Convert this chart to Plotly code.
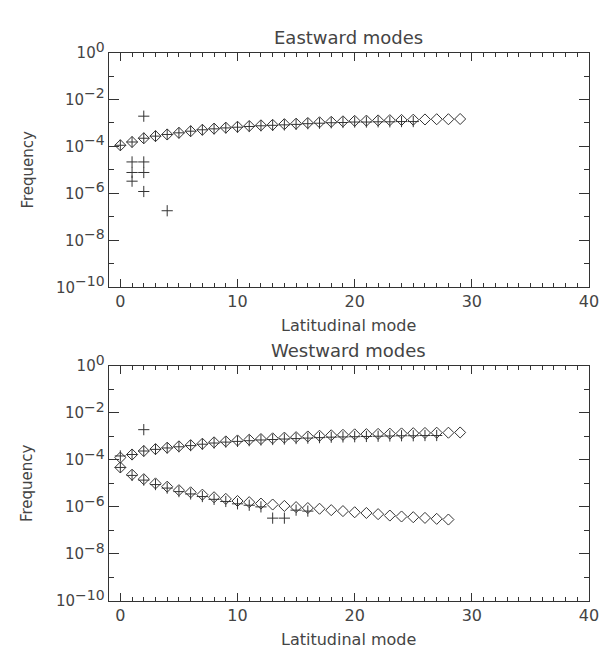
import plotly.graph_objects as go

# ---------------- data (log10 of frequency) ----------------
east_modes = list(range(0, 30))
east_diamond_log = [-3.95, -3.81, -3.65, -3.56, -3.49, -3.42, -3.35, -3.29, -3.24, -3.20,
                    -3.16, -3.13, -3.10, -3.08, -3.05, -3.03, -3.00, -2.97, -2.95, -2.93,
                    -2.91, -2.90, -2.89, -2.88, -2.87, -2.86, -2.85, -2.84, -2.84, -2.83]

east_plus_modes = [0, 1, 2, 3, 4, 5, 6, 7, 8, 9, 10, 11, 12, 13, 14, 15, 16, 17, 18, 19,
                   20, 21, 22, 23, 24, 25,
                   1, 1, 1, 2, 2, 2, 2, 4]
east_plus_log = [-3.95, -3.81, -3.65, -3.56, -3.49, -3.42, -3.35, -3.29, -3.25, -3.21,
                 -3.18, -3.15, -3.12, -3.10, -3.08, -3.06, -3.03, -3.01, -2.99, -2.98,
                 -2.96, -2.96, -2.95, -2.95, -2.94, -2.94,
                 -4.66, -5.11, -5.48, -2.71, -4.66, -5.11, -5.92, -6.74]

west_upper_modes = list(range(0, 30))
west_upper_diamond_log = [-3.90, -3.77, -3.62, -3.54, -3.48, -3.42, -3.37, -3.31, -3.25, -3.21,
                          -3.17, -3.14, -3.11, -3.08, -3.05, -3.03, -3.00, -2.97, -2.95, -2.93,
                          -2.91, -2.90, -2.89, -2.88, -2.87, -2.86, -2.85, -2.84, -2.84, -2.83]

west_lower_modes = list(range(0, 29))
west_lower_diamond_log = [-4.32, -4.63, -4.82, -5.00, -5.14, -5.29, -5.38, -5.48, -5.59, -5.66,
                          -5.75, -5.80, -5.86, -5.90, -5.96, -6.01, -6.05, -6.08, -6.14, -6.18,
                          -6.23, -6.26, -6.31, -6.37, -6.41, -6.44, -6.47, -6.51, -6.54]

west_plus_modes = [0, 1, 2, 3, 4, 5, 6, 7, 8, 9, 10, 11, 12, 13, 14, 15, 16, 17, 18, 19,
                   20, 21, 22, 23, 24, 25, 26, 27,
                   2,
                   0, 1, 2, 3, 4, 5, 6, 7, 8, 9, 10, 11, 12, 13, 14, 15, 16]
west_plus_log = [-3.83, -3.77, -3.62, -3.55, -3.49, -3.44, -3.39, -3.33, -3.28, -3.24,
                 -3.21, -3.18, -3.15, -3.13, -3.11, -3.09, -3.07, -3.05, -3.03, -3.02,
                 -3.01, -3.00, -2.99, -2.98, -2.97, -2.97, -2.96, -2.96,
                 -2.71,
                 -4.32, -4.66, -4.86, -5.05, -5.20, -5.35, -5.45, -5.56, -5.68, -5.77,
                 -5.87, -5.93, -6.00, -6.48, -6.48, -6.14, -6.18]

y_tick_exp = [0, -2, -4, -6, -8, -10]
y_minor_exp = [-1, -3, -5, -7, -9]
x_tick_vals = [0, 10, 20, 30, 40]

panel_titles = ["Eastward modes", "Westward modes"]
x_title = "Latitudinal mode"
y_title = "Frequency"

# ---------------- figure ----------------
W, H = 610, 649
INK = "#333333"
TEXT = "#444444"
FONT = "DejaVu Sans"

def to_freq(vals):
    return [10 ** v for v in vals]

def px(x):
    return x / W

def py(y):
    return 1 - y / H

fig = go.Figure()

diamond = dict(symbol="diamond-open", size=8.5, color=INK, line=dict(width=1, color=INK))
plus = dict(symbol="cross-thin-open", size=8, color=INK, line=dict(width=1, color=INK))

# top panel
fig.add_trace(go.Scatter(x=east_modes, y=to_freq(east_diamond_log), mode="markers",
                         marker=diamond, xaxis="x", yaxis="y", showlegend=False))
fig.add_trace(go.Scatter(x=east_plus_modes, y=to_freq(east_plus_log), mode="markers",
                         marker=plus, xaxis="x", yaxis="y", showlegend=False))
# bottom panel
fig.add_trace(go.Scatter(x=west_upper_modes, y=to_freq(west_upper_diamond_log), mode="markers",
                         marker=diamond, xaxis="x2", yaxis="y2", showlegend=False))
fig.add_trace(go.Scatter(x=west_lower_modes, y=to_freq(west_lower_diamond_log), mode="markers",
                         marker=diamond, xaxis="x2", yaxis="y2", showlegend=False))
fig.add_trace(go.Scatter(x=west_plus_modes, y=to_freq(west_plus_log), mode="markers",
                         marker=plus, xaxis="x2", yaxis="y2", showlegend=False))

x_left, x_right = 102.3, 590.7
top_box = (31.7, 275.0)
bot_box = (356.7, 600.0)

xtick_font = dict(family=FONT, size=16, color=TEXT)
ytick_font = dict(family=FONT, size=15, color=TEXT)

def ytick_text(e):
    s = str(e).replace("-", "\u2212")
    return "10<sup><span style='font-size:14px'>%s</span></sup>" % s

def xaxis_cfg(box):
    return dict(domain=[px(x_left), px(x_right)], range=[-1, 40],
                tickvals=x_tick_vals, ticktext=[str(v) for v in x_tick_vals],
                ticks="inside", ticklen=8, tickwidth=1, tickcolor=INK,
                minor=dict(dtick=1, tick0=0, ticks="inside", ticklen=4, tickwidth=1, tickcolor=INK),
                showline=True, linecolor=INK, linewidth=1, mirror="ticks",
                showgrid=False, zeroline=False, tickfont=xtick_font)

def yaxis_cfg(box):
    return dict(domain=[py(box[1]), py(box[0])], type="log", range=[-10, 0],
                tickvals=[10 ** e for e in y_tick_exp],
                ticktext=[ytick_text(e) for e in y_tick_exp],
                ticks="inside", ticklen=10, tickwidth=1, tickcolor=INK,
                minor=dict(tickvals=[10 ** e for e in y_minor_exp], ticks="inside",
                           ticklen=5, tickwidth=1, tickcolor=INK),
                showline=True, linecolor=INK, linewidth=1, mirror="ticks",
                showgrid=False, zeroline=False, tickfont=ytick_font)

fig.update_layout(
    width=W, height=H,
    margin=dict(l=0, r=0, t=0, b=0),
    paper_bgcolor="white", plot_bgcolor="white",
    xaxis=dict(xaxis_cfg(top_box), anchor="y"),
    yaxis=dict(yaxis_cfg(top_box), anchor="x"),
    xaxis2=dict(xaxis_cfg(bot_box), anchor="y2"),
    yaxis2=dict(yaxis_cfg(bot_box), anchor="x2"),
)

cx = (x_left + x_right) / 2
annots = []
for title, box in zip(panel_titles, [top_box, bot_box]):
    annots.append(dict(text=title, x=px(cx), y=py(box[0] - 16), xref="paper", yref="paper",
                       showarrow=False, font=dict(family=FONT, size=18, color=TEXT),
                       xanchor="center", yanchor="middle"))
    annots.append(dict(text=x_title, x=px(cx), y=py(box[1] + 40), xref="paper", yref="paper",
                       showarrow=False, font=dict(family=FONT, size=16, color=TEXT),
                       xanchor="center", yanchor="middle"))
    annots.append(dict(text=y_title, x=px(20), y=py((box[0] + box[1]) / 2), xref="paper", yref="paper",
                       showarrow=False, textangle=-90, font=dict(family=FONT, size=15, color=TEXT),
                       xanchor="center", yanchor="middle"))
fig.update_layout(annotations=annots)

fig.write_html("out.html")
